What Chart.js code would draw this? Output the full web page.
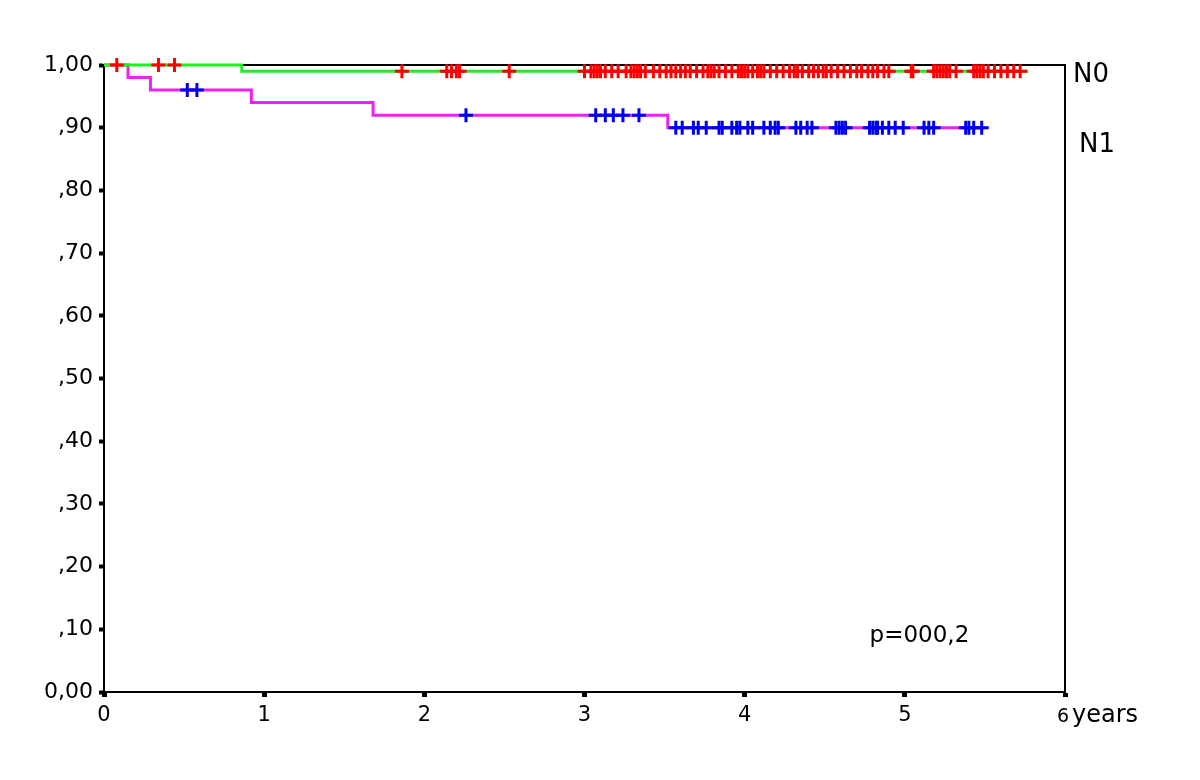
<!DOCTYPE html>
<html>
<head>
<meta charset="utf-8">
<script src="https://cdn.jsdelivr.net/npm/chart.js@4"></script>
<style>
  body { margin: 0; background: #fff; }
  #wrap { width: 1200px; height: 780px; }
</style>
</head>
<body>
<div id="wrap"><canvas id="km" width="1200" height="780"></canvas></div>
<script>
// survival steps (time in years, cumulative survival)
var n0Times = [0, 0.86, 5.77];
var n0Surv  = [1.00, 0.99, 0.99];
var n1Times = [0, 0.15, 0.29, 0.92, 1.68, 3.52, 5.50];
var n1Surv  = [1.00, 0.98, 0.96, 0.94, 0.92, 0.90, 0.90];

// censored cases
var n0Censored = [0.08, 0.34, 0.44, 1.86, 2.14, 2.17, 2.20, 2.22, 2.53,
  3.00, 3.04, 3.06, 3.08, 3.10, 3.13, 3.17, 3.21, 3.26, 3.29, 3.31, 3.33, 3.35, 3.38,
  3.43, 3.47, 3.51, 3.54, 3.57, 3.60, 3.63, 3.66, 3.70, 3.74, 3.77, 3.79, 3.81, 3.84,
  3.88, 3.92, 3.96, 3.98, 4.00, 4.02, 4.05, 4.08, 4.10, 4.12, 4.16, 4.20, 4.24, 4.28,
  4.31, 4.33, 4.36, 4.40, 4.43, 4.46, 4.49, 4.51, 4.54, 4.58, 4.62, 4.66, 4.70, 4.73,
  4.77, 4.80, 4.83, 4.87, 4.90, 5.04, 5.05, 5.18, 5.20, 5.22, 5.24, 5.26, 5.28, 5.32,
  5.43, 5.45, 5.47, 5.49, 5.52, 5.56, 5.60, 5.64, 5.68, 5.72];
var n1Censored = [0.52, 0.58, 2.26, 3.07, 3.13, 3.18, 3.24, 3.34,
  3.57, 3.61, 3.68, 3.71, 3.76, 3.84, 3.86, 3.92, 3.95, 3.97, 4.02, 4.05, 4.12, 4.16,
  4.19, 4.21, 4.32, 4.35, 4.39, 4.42, 4.57, 4.59, 4.61, 4.63, 4.78, 4.80, 4.82, 4.83,
  4.86, 4.90, 4.94, 4.99, 5.12, 5.15, 5.18, 5.38, 5.40, 5.43, 5.48];

var xTickLabels = ['0', '1', '2', '3', '4', '5', '6'];
var yTickLabels = ['0,00', ',10', ',20', ',30', ',40', ',50', ',60', ',70', ',80', ',90', '1,00'];

function curve(times, surv) {
  return times.map(function (t, i) { return { x: t, y: surv[i] }; });
}
// survival value at time t from the step curve
function survAt(times, surv, t) {
  var s = surv[0];
  for (var i = 0; i < times.length; i++) {
    if (times[i] <= t) s = surv[i];
  }
  return s;
}
function marks(cens, times, surv) {
  return cens.map(function (t) { return { x: t, y: survAt(times, surv, t) }; });
}

var FONT = "'DejaVu Sans', 'Liberation Sans', Arial, sans-serif";
var last = xTickLabels.length - 1;

var framePlugin = {
  id: 'frame',
  beforeDatasetsDraw: function (chart) {
    var a = chart.chartArea, ctx = chart.ctx;
    ctx.save();
    ctx.strokeStyle = '#000';
    ctx.lineWidth = 2;
    ctx.beginPath();
    ctx.moveTo(a.left, a.top);
    ctx.lineTo(a.right, a.top);
    ctx.lineTo(a.right, a.bottom);
    ctx.stroke();
    ctx.restore();
  },
  afterDraw: function (chart) {
    var ctx = chart.ctx;
    var xs = chart.scales.x, ys = chart.scales.y;
    ctx.save();
    ctx.fillStyle = '#000';
    ctx.textBaseline = 'alphabetic';
    ctx.textAlign = 'left';
    ctx.font = '26px ' + FONT;
    ctx.fillText('N0', xs.right + 8, ys.getPixelForValue(0.99) + 11);
    ctx.fillText('N1', xs.right + 14, ys.getPixelForValue(0.90) + 24);
    ctx.font = '23px ' + FONT;
    ctx.fillText('p=000,2', xs.getPixelForValue(4.78), ys.getPixelForValue(0.08));
    // last x tick label sits a bit smaller, on the baseline of the axis title
    ctx.font = '19px ' + FONT;
    ctx.textAlign = 'center';
    ctx.fillText(xTickLabels[last], xs.getPixelForValue(last) - 2, ys.bottom + 30);
    ctx.textAlign = 'left';
    ctx.font = '24px ' + FONT;
    ctx.fillText('years', xs.right + 7, ys.bottom + 30);
    ctx.restore();
  }
};

new Chart('km', {
  type: 'line',
  data: {
    datasets: [
      {
        label: 'N1 censored',
        type: 'scatter',
        data: marks(n1Censored, n1Times, n1Surv),
        pointStyle: 'cross',
        pointRadius: 7,
        pointBorderWidth: 3,
        borderColor: '#0000ee',
        backgroundColor: '#0000ee',
        showLine: false,
        clip: false
      },
      {
        label: 'N0 censored',
        type: 'scatter',
        data: marks(n0Censored, n0Times, n0Surv),
        pointStyle: 'cross',
        pointRadius: 7,
        pointBorderWidth: 3,
        borderColor: '#ff0000',
        backgroundColor: '#ff0000',
        showLine: false,
        clip: false
      },
      {
        label: 'N0',
        data: curve(n0Times, n0Surv),
        stepped: true,
        borderColor: '#22ee22',
        borderWidth: 3,
        pointRadius: 0,
        fill: false,
        clip: false
      },
      {
        label: 'N1',
        data: curve(n1Times, n1Surv),
        stepped: true,
        borderColor: '#ee22ee',
        borderWidth: 3,
        pointRadius: 0,
        fill: false,
        clip: false
      }
    ]
  },
  options: {
    responsive: false,
    animation: false,
    devicePixelRatio: 1,
    layout: { padding: { left: 0, top: 65, right: 135, bottom: 0 } },
    plugins: { legend: { display: false }, tooltip: { enabled: false } },
    scales: {
      x: {
        type: 'linear',
        min: 0,
        max: 6,
        afterFit: function (s) { s.height = 88; },
        afterBuildTicks: function (s) {
          s.ticks = xTickLabels.map(function (l, i) { return { value: i }; });
        },
        ticks: {
          callback: function (v, i) { return i === last ? '' : xTickLabels[i]; },
          color: '#000',
          font: { family: FONT, size: 21 },
          padding: 6,
          maxRotation: 0
        },
        grid: { drawOnChartArea: false, tickLength: 5, tickWidth: 5, tickColor: '#000' },
        border: { color: '#000', width: 2 }
      },
      y: {
        min: 0,
        max: 1,
        afterFit: function (s) { s.width = 104; },
        afterBuildTicks: function (s) {
          s.ticks = yTickLabels.map(function (l, i) { return { value: i / 10 }; });
        },
        ticks: {
          callback: function (v, i) { return yTickLabels[i]; },
          color: '#000',
          font: { family: FONT, size: 22 },
          padding: 6
        },
        grid: { drawOnChartArea: false, tickLength: 5, tickWidth: 4, tickColor: '#000' },
        border: { color: '#000', width: 2 }
      }
    }
  },
  plugins: [framePlugin]
});
</script>
</body>
</html>
